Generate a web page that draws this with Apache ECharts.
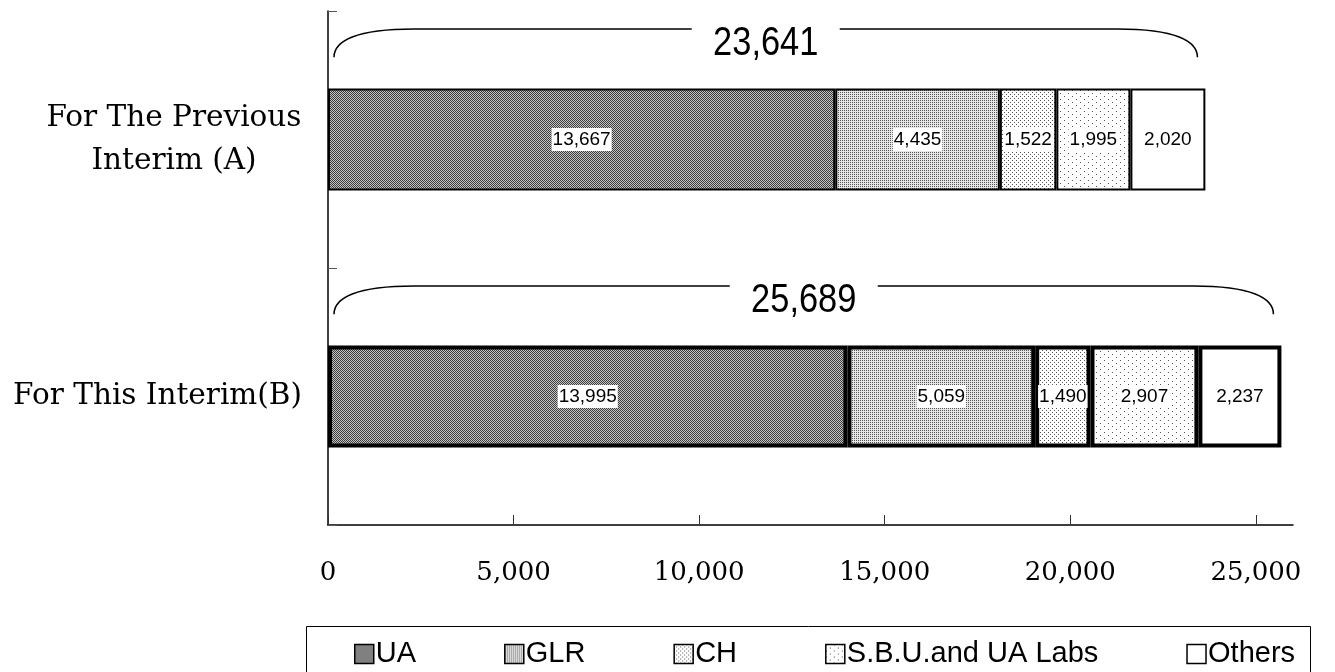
<!DOCTYPE html>
<html>
<head>
<meta charset="utf-8">
<script src="https://cdn.jsdelivr.net/npm/echarts@6/dist/echarts.min.js"></script>
<style>
html,body{margin:0;padding:0;background:#fff;}
#chart{width:1335px;height:672px;}
</style>
</head>
<body>
<div id="chart"></div>
<script>
// ---- data ----
const categories = ['For The Previous\nInterim (A)', 'For This Interim(B)'];
const seriesNames = ['UA', 'GLR', 'CH', 'S.B.U.and UA Labs', 'Others'];
const uaValues = [13667, 13995];
const glrValues = [4435, 5059];
const chValues = [1522, 1490];
const sbuValues = [1995, 2907];
const othersValues = [2020, 2237];
const totalValues = [23641, 25689];
const xTickValues = [0, 5000, 10000, 15000, 20000, 25000];

// ---- styles ----
const barBorderWidths = [2, 4];
function makePattern(w, h, bg, dots, dotColor) {
  const c = document.createElement('canvas');
  c.width = w; c.height = h;
  const ctx = c.getContext('2d');
  ctx.fillStyle = bg; ctx.fillRect(0, 0, w, h);
  ctx.fillStyle = dotColor;
  dots.forEach(function (d) { ctx.fillRect(d[0], d[1], 1, 1); });
  return { image: c, repeat: 'repeat' };
}
const fills = [
  makePattern(2, 2, '#c4c4c4', [[0, 0], [1, 1]], '#3c3c3c'),
  makePattern(2, 2, '#e6e6e6', [[0, 0]], '#555555'),
  makePattern(4, 4, '#ffffff', [[0, 0], [2, 2]], '#555555'),
  makePattern(8, 6, '#ffffff', [[0, 0], [4, 3]], '#555555'),
  '#ffffff'
];
const valueSets = [uaValues, glrValues, chValues, sbuValues, othersValues];
const fmt = function (v) { return Number(v).toLocaleString('en-US'); };

const barSeries = seriesNames.map(function (name, si) {
  return {
    name: name,
    type: 'bar',
    stack: 'total',
    barWidth: 102,
    itemStyle: { color: fills[si], borderColor: '#000', borderWidth: 2 },
    label: {
      show: true,
      position: 'inside',
      formatter: function (p) { return fmt(p.value); },
      color: '#000',
      fontFamily: 'Liberation Sans, Arial, sans-serif',
      fontSize: 19,
      backgroundColor: '#fff',
      padding: [2, 1]
    },
    emphasis: { disabled: true },
    data: valueSets[si].map(function (v, ci) {
      return { value: v, itemStyle: { borderWidth: barBorderWidths[ci] } };
    })
  };
});

const braceSeries = {
  type: 'custom',
  silent: true,
  z: 5,
  encode: { x: 0, y: 1 },
  data: totalValues.map(function (t, i) { return [t, i]; }),
  renderItem: function (params, api) {
    const total = api.value(0);
    const ci = api.value(1);
    const p0 = api.coord([0, ci]);
    const p1 = api.coord([total, ci]);
    const band = api.size([0, 1])[1];
    const yc = p0[1];
    const yLine = yc - band * 0.43;
    const yEnd = yc - band * 0.32;
    const x0 = p0[0] + 6;
    const x1 = p1[0] - 8;
    const xm = (x0 + x1) / 2;
    const gap = 74;
    const path =
      'M' + x0 + ' ' + yEnd +
      ' C' + x0 + ' ' + (yLine + 12) + ' ' + (x0 + 22) + ' ' + yLine + ' ' + (x0 + 80) + ' ' + yLine +
      ' L' + (xm - gap) + ' ' + yLine +
      ' M' + (xm + gap) + ' ' + yLine +
      ' L' + (x1 - 80) + ' ' + yLine +
      ' C' + (x1 - 22) + ' ' + yLine + ' ' + x1 + ' ' + (yLine + 12) + ' ' + x1 + ' ' + yEnd;
    return {
      type: 'group',
      children: [
        { type: 'path', shape: { pathData: path }, style: { fill: null, stroke: '#000', lineWidth: 1.5 } },
        {
          type: 'text',
          x: xm, y: yLine + 15,
          scaleX: 0.86,
          style: {
            text: fmt(total), x: 0, y: 0,
            align: 'center', verticalAlign: 'middle',
            font: '40px "Liberation Sans", Arial, sans-serif',
            fill: '#000'
          }
        }
      ]
    };
  }
};

const chart = echarts.init(document.getElementById('chart'), null, { renderer: 'canvas' });
chart.setOption({
  animation: false,
  backgroundColor: '#fff',
  grid: { left: 328, right: 42, top: 11, bottom: 147, containLabel: false },
  xAxis: {
    type: 'value', min: 0, max: 26000, interval: 5000,
    axisLine: { show: true, lineStyle: { color: '#000', width: 1.5 } },
    axisTick: { show: true, inside: true, length: 10, customValues: xTickValues, lineStyle: { color: '#333' } },
    axisLabel: {
      customValues: xTickValues,
      formatter: function (v) { return fmt(v); },
      margin: 35,
      color: '#000',
      fontFamily: 'DejaVu Serif, serif',
      fontSize: 26
    },
    splitLine: { show: false }
  },
  yAxis: {
    type: 'category', inverse: true, data: categories,
    axisLine: { show: true, lineStyle: { color: '#000', width: 1.5 } },
    axisTick: { show: true, inside: true, length: 9, lineStyle: { color: '#555' } },
    axisLabel: {
      margin: 26,
      align: 'right',
      color: '#000',
      fontFamily: 'DejaVu Serif, serif',
      fontSize: 29.5,
      formatter: function (v) {
        if (v.indexOf('\n') >= 0) {
          return v.split('\n').map(function (s) { return '{c|' + s + '}'; }).join('\n');
        }
        return v;
      },
      rich: {
        c: { width: 256, align: 'center', fontFamily: 'DejaVu Serif, serif', fontSize: 29.5, lineHeight: 43, color: '#000' }
      }
    },
    splitLine: { show: false }
  },
  legend: {
    data: seriesNames,
    orient: 'horizontal',
    left: 349, top: 634,
    itemWidth: 19, itemHeight: 19, itemGap: 88,
    icon: 'rect',
    selectedMode: false,
    itemStyle: { borderColor: '#000', borderWidth: 1.5 },
    textStyle: { color: '#000', fontFamily: 'Liberation Sans, Arial, sans-serif', fontSize: 29, lineHeight: 30, padding: [0, 0, 0, -3] }
  },
  graphic: [{
    type: 'rect', silent: true,
    shape: { x: 306.5, y: 626.5, width: 1004, height: 60 },
    style: { fill: null, stroke: '#000', lineWidth: 1 }
  }],
  series: barSeries.concat([braceSeries])
});
</script>
</body>
</html>
